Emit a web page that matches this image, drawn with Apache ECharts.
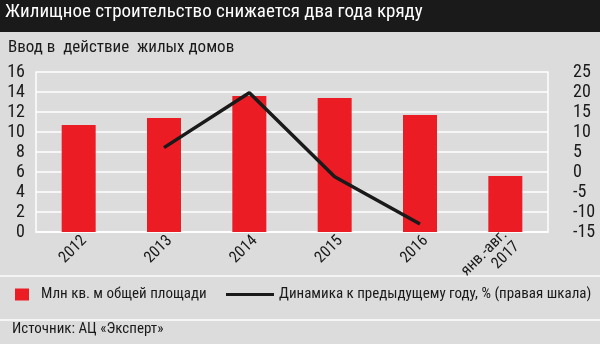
<!DOCTYPE html>
<html><head><meta charset="utf-8">
<script src="https://cdn.jsdelivr.net/npm/echarts@6/dist/echarts.min.js"></script>
<style>html,body{margin:0;padding:0;background:#dcdcdc}#c{width:600px;height:344px}</style>
</head><body><div id="c"></div>
<script>
var categories = ['2012', '2013', '2014', '2015', '2016', 'янв.-авг.\n2017'];
var areaValues = [10.7, 11.4, 13.6, 13.4, 11.7, 5.6];
var dynamicsValues = [null, 6.1, 19.8, -1.2, -13, null];
var leftTicks = {min: 0, max: 16, interval: 2};
var rightTicks = {min: -15, max: 25, interval: 5};
var titleText = 'Жилищное строительство снижается два года кряду';
var subtitleText = 'Ввод в  действие  жилых домов';
var sourceText = 'Источник: АЦ «Эксперт»';
var barName = 'Млн кв. м общей площади';
var lineName = 'Динамика к предыдущему году, % (правая шкала)';

var FONT = '"Roboto Condensed", "DejaVu Sans Condensed", sans-serif';
var chart = echarts.init(document.getElementById('c'), null, {renderer: 'canvas'});
chart.setOption({
  backgroundColor: '#dcdcdc',
  animation: false,
  textStyle: {fontFamily: FONT},
  graphic: [
    {type: 'rect', shape: {x: 0, y: 0, width: 600, height: 32}, style: {fill: '#1b1a1a'}, z: -1},
    {type: 'text', left: 5, top: 3, style: {text: titleText, fill: '#ffffff', font: '19px ' + FONT}},
    {type: 'text', left: 8, top: 39, style: {text: subtitleText, fill: '#1a1a1a', font: '17px ' + FONT}},
    {type: 'line', shape: {x1: 0, y1: 276, x2: 600, y2: 276}, style: {stroke: '#f4f4f4', lineWidth: 2}},
    {type: 'line', shape: {x1: 0, y1: 320, x2: 600, y2: 320}, style: {stroke: '#f4f4f4', lineWidth: 2}},
    {type: 'text', left: 12, top: 322, style: {text: sourceText, fill: '#1a1a1a', font: '15px ' + FONT}}
  ],
  legend: [
    {data: [barName], left: 15, top: 287, icon: 'rect', itemWidth: 14, itemHeight: 12, padding: 0,
     textStyle: {color: '#1a1a1a', fontSize: 15, fontFamily: FONT, padding: [0, 0, 0, 7]}, selectedMode: false},
    {data: [lineName], left: 226, top: 287, icon: 'rect', itemWidth: 48, itemHeight: 3, padding: 0,
     textStyle: {color: '#1a1a1a', fontSize: 15, fontFamily: FONT}, selectedMode: false}
  ],
  grid: {left: 36, right: 52, top: 72, bottom: 112, containLabel: false},
  xAxis: {
    type: 'category', data: categories,
    axisLine: {show: true, lineStyle: {color: '#ffffff', width: 1.5}},
    axisTick: {show: false},
    axisLabel: {rotate: 45, color: '#1a1a1a', fontSize: 16, fontFamily: FONT, margin: 12, interval: 0,
                lineHeight: 17, padding: [0, -8, 0, 0]}
  },
  yAxis: [
    {type: 'value', min: leftTicks.min, max: leftTicks.max, interval: leftTicks.interval, position: 'left',
     axisLine: {show: true, lineStyle: {color: '#ffffff', width: 1.5}},
     axisTick: {show: false},
     splitLine: {show: true, lineStyle: {color: '#ffffff', width: 1.5}},
     axisLabel: {color: '#1a1a1a', fontSize: 18, fontFamily: FONT, margin: 11}},
    {type: 'value', min: rightTicks.min, max: rightTicks.max, interval: rightTicks.interval, position: 'right',
     axisLine: {show: true, lineStyle: {color: '#ffffff', width: 1.5}},
     axisTick: {show: false},
     splitLine: {show: false},
     axisLabel: {color: '#1a1a1a', fontSize: 18, fontFamily: FONT, margin: 25}}
  ],
  series: [
    {name: barName, type: 'bar', data: areaValues, barWidth: 34, yAxisIndex: 0,
     itemStyle: {color: '#ec1c24'}},
    {name: lineName, type: 'line', data: dynamicsValues, yAxisIndex: 1, symbol: 'none',
     connectNulls: false, lineStyle: {color: '#1a1a1a', width: 3.5}, itemStyle: {color: '#1a1a1a'}}
  ]
});
</script></body></html>
